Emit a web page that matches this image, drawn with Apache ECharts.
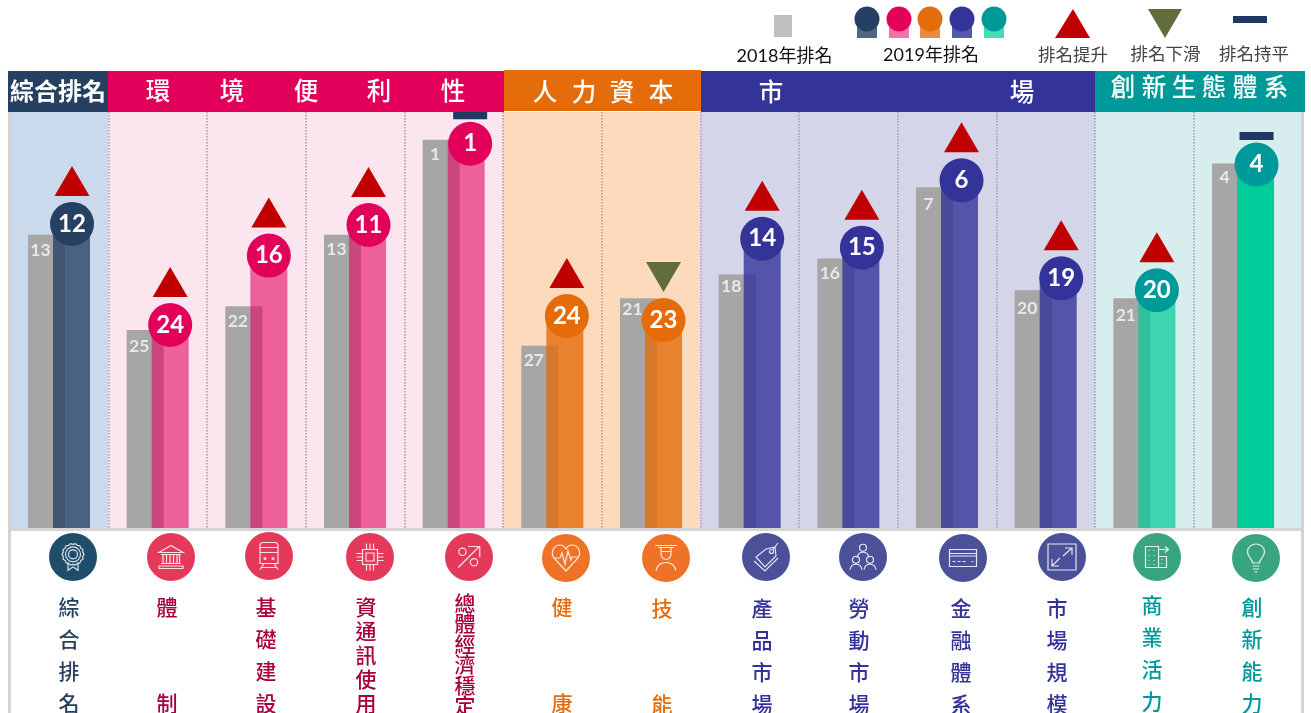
<!DOCTYPE html>
<html>
<head>
<meta charset="utf-8">
<style>html,body{margin:0;padding:0;background:#fff;overflow:hidden}#c{width:1311px;height:713px}</style>
<script src="https://cdn.jsdelivr.net/npm/echarts@6/dist/echarts.min.js"></script>
</head>
<body>
<div id="c"></div>
<script>
// ---------- data ----------
const categories = ['綜合排名','體制','基礎建設','資通訊使用','總體經濟穩定','健康','技能','產品市場','勞動市場','金融體系','市場規模','商業活力','創新能力'];
const rank2018 = [13,25,22,13,1,27,21,18,16,7,20,21,4];
const rank2019 = [12,24,16,11,1,24,23,14,15,6,19,20,4];
const groupNames = ['綜合排名','環境便利性','人力資本','市場','創新生態體系'];
const groupOfCategory = [0,1,1,1,1,2,2,3,3,3,3,4,4];
const legendLabels = ['2018年排名','2019年排名','排名提升','排名下滑','排名持平'];

// ---------- style and layout ----------
const F = "'Lato','Noto Sans CJK TC',sans-serif";
const CJK = "'Noto Sans CJK TC',sans-serif";
const groupColor = ['#254061','#e3005b','#e46c0a','#333399','#009999'];
const groupBand = ['#cadaec','#fbe5ee','#fddabc','#d4d5e9','#d8edee'];
const groupBar = ['#254061','#e3005b','#e46c0a','#333399','#00cc99'];
const groupAlpha = [0.78,0.58,0.8,0.8,0.72];
const groupIcon = ['#1f4e6b','#e4395a','#ee7329','#4b5199','#39a57f'];
const groupText = ['#254061','#a8003f','#e46c0a','#333399','#009999'];
const barWidth = 37, offset2018 = -12.5, offset2019 = 12.5;
const circleNudgeX = [0.5,0,0,1,4,2,0,0,1,2,3,0,1];
const circleNudgeY = [-3,3,-3,6,4,-6,6,-4,-3,1,-4,0,1];
const label2018Nudge = [16,16,15,15,15,15,11,12,15,17,18,17,14];
const labelX = [69,167,266,366,465,562,662,762,859,961,1057,1152,1252];
const labelY = [607,607,607,607,603,607,608,608,608,608,608,605,607];
const labelLH = [32,32,32,24,20.5,32,32,32,32,32,32,32,32];
const iconY = [557,557,556,557,557,558,558,557,557,558,557,557,558];
const iconX = [73,171,269,370,469,566,666,766,863,963,1062,1157,1256];

const c = (x,y,r)=>`M${x-r} ${y}A${r} ${r} 0 1 0 ${x+r} ${y}A${r} ${r} 0 1 0 ${x-r} ${y}Z`;
function gear(x,y,r1,r2,n){let d='';for(let i=0;i<n*2;i++){const r=i%2?r1:r2,a=Math.PI*i/n;d+=(i?'L':'M')+(x+r*Math.cos(a)).toFixed(2)+' '+(y+r*Math.sin(a)).toFixed(2);}return d+'Z';}
const iconPaths = [
 {w:22,h:27,d:gear(11,11,10,11,14)+c(11,11,7.5)+c(11,11,4.5)+'M6 19L6 27L11 23.5L16 27L16 19'},
 {w:26,h:23,d:'M13 0L25 7H1ZM3 9H23M5 9V18M8.5 9V18M12 9V18M15.5 9V18M19 9V18M21.5 9V18M3 18H23M1 20.5H25V23H1Z'},
 {w:20,h:27,d:'M4 0H16Q19 0 19 3V21H1V3Q1 0 4 0ZM1 5H19M1 10H19'+c(6,16,1)+c(14,16,1)+'M5 21L1 27M15 21L19 27M2.5 25H17.5'},
 {w:27,h:27,d:'M6 6H21V21H6ZM9.5 9.5H17.5V17.5H9.5ZM10 0V6M13.5 0V6M17 0V6M10 21V27M13.5 21V27M17 21V27M0 10H6M0 13.5H6M0 17H6M21 10H27M21 13.5H27M21 17H27'},
 {w:22,h:21,d:c(5,6,3.5)+c(16,16,3.5)+'M1 21L21 1M10.5 1H21.5V11.5'},
 {w:28,h:26,d:'M14 26L2 13C-2 7 2 0 8 0C11 0 13 2 14 4C15 2 17 0 20 0C26 0 30 7 26 13ZM1 13H8L10 8L13 19L16 6L19 15L20 12H27'},
 {w:22,h:26,d:'M0 1H22M3 3H19M6 3V9M16 3V9M6 9C6 12 8 15 11 15C14 15 16 12 16 9M6 7H16M1 26Q3 18 11 18Q19 18 21 26'},
 {w:25,h:28,d:'M12 6L21 4L22 13L11 24L2 14Z'+c(17.5,8.5,2)+'M18.5 7L24 0M0 18L11 28L24 15'},
 {w:26,h:26,d:c(13,4,3.5)+'M7 14Q8 8.5 13 8.5Q18 8.5 19 14'+c(6,16,3.5)+c(20,16,3.5)+'M0 26Q1 20.5 6 20.5Q11 20.5 12 26M14 26Q15 20.5 20 20.5Q25 20.5 26 26'},
 {w:27,h:17,d:'M0 0H27V17H0ZM0 4H27M0 6.5H27M3 12H6M8 12H11M13 12H16M22 12H24'},
 {w:28,h:26,d:'M0 0H28V26H0ZM17 4H24V11M24 4L15 12M11 22H4V15M4 22L12 14'},
 {w:23,h:22,d:'M0 1H13V22H0ZM13 11H21V22H13ZM13 4H23M19.5 1L23 4L19.5 7M3 5H4M8 5H9M3 10H4M8 10H9M3 15H4M8 15H9M3 19H4M8 19H9M16 14H17M16 18H17'},
 {w:17,h:28,d:'M5 19C5 15 0 13 0 8C0 3 4 0 8.5 0C13 0 17 3 17 8C17 13 12 15 12 19ZM5 22H12M5.5 25H11.5M7 28H10'}
];

// ---------- graphic decorations ----------
const headerRects = [[8,71,100,41,0],[108,71,396,41,1],[504,70,197,41,2],[701,71,394,41,3],[1095,71,210,41,4]];
const headerChars = [
 {t:'綜合排名',x:[58],y:91,g:0,size:24},
 {t:'環境便利性',x:[158,232,306,379,453],y:91,g:1},
 {t:'人力資本',x:[545,584,622,661],y:92,g:2},
 {t:'市場',x:[771,1022],y:92,g:3},
 {t:'創新生態體系',x:[1123,1154,1184,1214,1245,1276],y:87,g:4}
];
const gfx = [];
const Z = 20;
function txt(text,x,y,font,fill,extra){gfx.push({type:'text',z:Z+2,style:Object.assign({text,x,y,font,fill,textAlign:'center',textVerticalAlign:'middle'},extra||{})});}
function rect(x,y,w,h,fill,z){gfx.push({type:'rect',z:z||Z,shape:{x,y,width:w,height:h},style:{fill}});}
headerRects.forEach(r=>rect(r[0],r[1],r[2],r[3],groupColor[r[4]]));
headerChars.forEach(h=>{
  if(h.x.length===1) txt(h.t,h.x[0],h.y,`700 24px ${CJK}`,'#fff');
  else [...h.t].forEach((ch,i)=>txt(ch,h.x[i],h.y,`500 24.5px ${CJK}`,'#fff'));
});
// frame
rect(8,112,3,601,'#d4d4d4');
rect(1301,112,3,601,'#d4d4d4');
rect(8,528,1296,3,'#d4d4d4');
// legend
rect(774,15,18,22,'#bfbfbf');
const legendBars = ['#4f6783','#f273a8','#ec8a3e','#5559ab','#44dcb4'];
[867,899,930,962,994].forEach((x,i)=>{
  rect(x-10,20,20,18,legendBars[i]);
  gfx.push({type:'circle',z:Z+1,shape:{cx:x,cy:19,r:12.5},style:{fill:groupColor[i]}});
});
gfx.push({type:'polygon',z:Z,shape:{points:[[1073,9],[1090,38],[1055,38]]},style:{fill:'#c00000'}});
gfx.push({type:'polygon',z:Z,shape:{points:[[1148,9],[1182,9],[1165,38]]},style:{fill:'#5f6e3b'}});
rect(1233,16,34,7,'#1f3864');
[[784.5,56,18,'#111'],[931,55,18,'#111'],[1073,55,17.5,'#444'],[1165.5,54,17.5,'#444'],[1254,54,17.5,'#444']].forEach((l,i)=>{
  txt(legendLabels[i],l[0],l[1],`400 ${l[2]}px ${F}`,l[3]);
});
// vertical category labels
categories.forEach((name,i)=>{
  const chars=[...name];
  const text = chars.length===2 ? chars[0]+'\n\n\n'+chars[1] : chars.join('\n');
  gfx.push({type:'text',z:Z+2,style:{text,x:labelX[i],y:labelY[i]-labelLH[i]/2,font:`500 21px ${CJK}`,lineHeight:labelLH[i],fill:groupText[groupOfCategory[i]],textAlign:'center',textVerticalAlign:'top'}});
});

// ---------- series ----------
const bands = groupNames.map((n,g)=>{
  const idx=categories.map((_,i)=>i).filter(i=>groupOfCategory[i]===g);
  return [idx[0],idx[idx.length-1],g];
});
const yBottom = 50, yTop = -2.5;
const chart = echarts.init(document.getElementById('c'),null,{renderer:'canvas'});
chart.setOption({
  animation:false,
  backgroundColor:'#fff',
  tooltip:{show:false},
  graphic:{elements:gfx},
  grid:{left:9.67,top:112,width:1282.7,height:416,containLabel:false},
  xAxis:{type:'category',data:categories,z:1,axisLine:{show:false},axisTick:{show:false},axisLabel:{show:false},
    splitLine:{show:true,interval:0,showMinLine:false,showMaxLine:false,lineStyle:{type:'dotted',color:'#a0a0a0',width:1.5}}},
  yAxis:{type:'value',inverse:true,min:yTop,max:yBottom,show:false},
  series:[
    {name:'bands',type:'custom',z:-1,silent:true,data:bands,encode:{x:0,y:null},
     renderItem(p,api){
       const s=api.size([1,0])[0];
       const a=api.coord([api.value(0),yTop]),b=api.coord([api.value(1),yBottom]);
       const g=api.value(2), extra=g===groupNames.length-1?10:0;
       return {type:'rect',shape:{x:a[0]-s/2,y:a[1],width:b[0]-a[0]+s+extra,height:b[1]-a[1]},style:{fill:groupBand[g]}};
     }},
    {name:'2018年排名',type:'custom',z:3,data:rank2018.map((v,i)=>[i,v]),encode:{x:0,y:1},
     renderItem(p,api){
       const i=api.value(0),t=api.coord([i,api.value(1)]),b=api.coord([i,yBottom]);
       const x=t[0]+offset2018;
       return {type:'group',children:[
         {type:'rect',shape:{x:x-barWidth/2,y:t[1],width:barWidth,height:b[1]-t[1]},style:{fill:'#a6a6a6'}},
         {type:'text',z2:5,style:{text:String(api.value(1)),x:x-6,y:t[1]+label2018Nudge[i],font:`700 17.5px ${F}`,fill:'#e8e8e8',textAlign:'center',textVerticalAlign:'middle'}}
       ]};
     }},
    {name:'2019年排名',type:'custom',z:4,data:rank2019.map((v,i)=>[i,v]),encode:{x:0,y:1},
     renderItem(p,api){
       const i=api.value(0),t=api.coord([i,api.value(1)]),b=api.coord([i,yBottom]);
       const g=groupOfCategory[i], alpha=i===categories.length-1?1:groupAlpha[g];
       return {type:'rect',shape:{x:t[0]+offset2019-barWidth/2,y:t[1],width:barWidth,height:b[1]-t[1]},style:{fill:groupBar[g],opacity:alpha}};
     }},
    {name:'2019排名圓',type:'custom',z:5,data:rank2019.map((v,i)=>[i,v]),encode:{x:0,y:1},
     renderItem(p,api){
       const i=api.value(0),t=api.coord([i,api.value(1)]);
       const cx=t[0]+offset2019+circleNudgeX[i],cy=t[1]+circleNudgeY[i];
       return {type:'group',children:[
         {type:'circle',shape:{cx,cy,r:22},style:{fill:groupColor[groupOfCategory[i]]}},
         {type:'text',z2:5,style:{text:String(api.value(1)),x:cx,y:cy,font:`700 24px ${F}`,fill:'#fff',textAlign:'center',textVerticalAlign:'middle'}}
       ]};
     }},
    {name:'排名變化',type:'custom',z:6,data:rank2019.map((v,i)=>[i,v,rank2018[i]]),encode:{x:0,y:1},
     renderItem(p,api){
       const i=api.value(0),now=api.value(1),prev=api.value(2),t=api.coord([i,now]);
       const cx=t[0]+offset2019+circleNudgeX[i],cy=t[1]+circleNudgeY[i];
       if(now===prev){
         return {type:'rect',shape:{x:cx-17,y:cy-32.5,width:34,height:8},style:{fill:'#1f3864'}};
       }
       const m=cy-43;
       if(now<prev) return {type:'polygon',shape:{points:[[cx,m-15],[cx+17.5,m+15],[cx-17.5,m+15]]},style:{fill:'#c00000'}};
       return {type:'polygon',shape:{points:[[cx-17.5,m-15],[cx+17.5,m-15],[cx,m+15]]},style:{fill:'#5f6e3b'}};
     }},
    {name:'icons',type:'custom',z:7,silent:true,data:categories.map((n,i)=>[i]),encode:{x:0,y:null},
     renderItem(p,api){
       const i=api.value(0),x=iconX[i],y=iconY[i],ic=iconPaths[i];
       return {type:'group',children:[
         {type:'circle',shape:{cx:x,cy:y,r:24},style:{fill:groupIcon[groupOfCategory[i]]}},
         {type:'path',z2:3,shape:{pathData:ic.d,x:x-ic.w/2,y:y-ic.h/2,width:ic.w,height:ic.h},style:{fill:'none',stroke:'rgba(255,255,255,0.85)',lineWidth:1.2}}
       ]};
     }}
  ]
});
</script>
</body>
</html>
